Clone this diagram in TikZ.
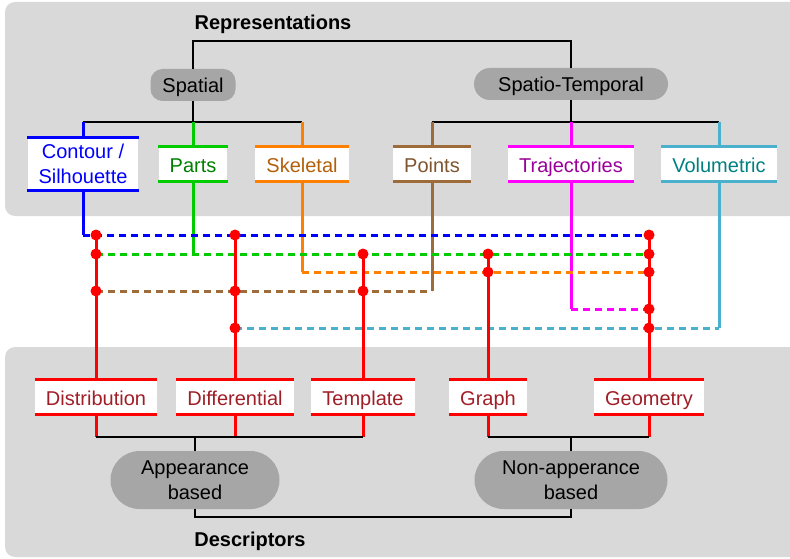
\documentclass[tikz,border=0pt]{standalone}
\usepackage{fontspec}
\setmainfont{Liberation Sans}
\usetikzlibrary{positioning, calc, shapes.misc}
\definecolor{panelgray}{RGB}{217,217,217}
\definecolor{catgray}{RGB}{166,166,166}
\definecolor{contourcol}{RGB}{0,0,255}
\definecolor{partscol}{RGB}{0,204,0}
\definecolor{partstxt}{RGB}{0,128,0}
\definecolor{skeletalcol}{RGB}{255,128,0}
\definecolor{skeletaltxt}{RGB}{180,96,10}
\definecolor{pointscol}{RGB}{158,107,58}
\definecolor{pointstxt}{RGB}{127,85,48}
\definecolor{trajcol}{RGB}{255,0,255}
\definecolor{trajtxt}{RGB}{153,0,153}
\definecolor{volcol}{RGB}{75,176,204}
\definecolor{voltxt}{RGB}{0,128,128}
\definecolor{desccol}{RGB}{255,0,0}
\definecolor{desctxt}{RGB}{160,30,40}
\tikzset{%
  panel/.style = {fill=panelgray, rounded corners=10pt},
  heading/.style = {font=\fontsize{20}{24.5}\selectfont\bfseries},
  cat/.style = {rounded rectangle, fill=catgray, align=center,
                inner xsep=0pt, inner ysep=6pt, minimum height=32pt,
                font=\fontsize{20}{24.5}\selectfont},
  oneline/.style = {text height=18pt, text depth=2pt},
  leafbox/.style = {fill=white, text=#1, align=center, minimum height=34pt,
                    inner xsep=11pt, inner ysep=7pt,
                    font=\fontsize{20}{24.5}\selectfont},
  leaf/.style = {leafbox=#1, oneline},
  tree/.style = {draw=black, line width=2pt},
  wire/.style = {draw=#1, line width=3pt},
  bus/.style = {wire=#1, dash pattern=on 7pt off 5pt},
  dot/.style = {circle, fill=desccol, inner sep=0pt, minimum size=11pt}
  }

\begin{document}
\begin{tikzpicture}[x=1pt, y=-1pt]
  \useasboundingbox (0,0) rectangle (790,559);
  \clip (0,0) rectangle (790,559);
  \path[panel] (5,2) rectangle (810,216);
  \path[panel] (5,347) rectangle (810,557);

  \begin{scope}
    \node (rep) [heading] at (273,24) {Representations};
    \node (spatial) [cat, oneline, rectangle, rounded corners=12pt,
      minimum width=85pt, inner ysep=4pt] at (193,85) {Spatial};
    \node (spatemp) [cat, oneline, minimum width=194pt, inner ysep=4pt]
      at (571,84) {Spatio-Temporal};

    \node (contour) [leafbox=contourcol] at (83,164) {Contour /\\Silhouette};
    \node (parts) [leaf=partstxt] at (193,164) {Parts};
    \node (skeletal) [leaf=skeletaltxt] at (302,164) {Skeletal};
    \node (points) [leaf=pointstxt] at (432,164) {Points};
    \node (traj) [leaf=trajtxt] at (571,164) {Trajectories};
    \node (volumetric) [leaf=voltxt] at (719,164) {Volumetric};

    \coordinate (repbar) at (0,41);
    \coordinate (spbar) at (0,122);
    \draw[tree] (spatial.north) -- (spatial.north |- repbar) -| (spatemp.north);
    \draw[tree] (spatial.south) -- (spatial.south |- spbar);
    \draw[tree] (contour.north |- spbar) -- (skeletal.north |- spbar);
    \draw[tree] (spatemp.south) -- (spatemp.south |- spbar);
    \draw[tree] (points.north |- spbar) -- (volumetric.north |- spbar);
  \end{scope}

  \begin{scope}
    \node (distribution) [leaf=desctxt] at (96,397) {Distribution};
    \node (differential) [leaf=desctxt] at (235,397) {Differential};
    \node (template) [leaf=desctxt] at (363,397) {Template};
    \node (graph) [leaf=desctxt] at (488,397) {Graph};
    \node (geometry) [leaf=desctxt] at (649,397) {Geometry};

    \node (appearance) [cat, minimum width=169pt, minimum height=58pt]
      at (195,480) {Appearance\\based};
    \node (nonapp) [cat, minimum width=193pt, minimum height=58pt]
      at (571,480) {Non-apperance\\based};
    \node (desc) [heading] at (250,541) {Descriptors};

    \coordinate (appbar) at (0,437);
    \coordinate (descbar) at (0,517);
    \foreach \d in {distribution, differential, template, graph, geometry}
      \draw[wire=desccol] (\d.south) -- (\d.south |- appbar);
    \draw[tree] (distribution.south |- appbar) -- (template.south |- appbar);
    \draw[tree] (appearance.north) -- (appearance.north |- appbar);
    \draw[tree] (graph.south |- appbar) -- (geometry.south |- appbar);
    \draw[tree] (nonapp.north) -- (nonapp.north |- appbar);
    \draw[tree] (appearance.south) -- (appearance.south |- descbar)
      -| (nonapp.south);
  \end{scope}

  % links between representations and descriptors
  \coordinate (lvcontour) at (0,235);
  \coordinate (lvparts) at (0,254);
  \coordinate (lvskeletal) at (0,272);
  \coordinate (lvpoints) at (0,291);
  \coordinate (lvtraj) at (0,309);
  \coordinate (lvvolumetric) at (0,328);

  \foreach \r/\c in {contour/contourcol, parts/partscol, skeletal/skeletalcol,
                     points/pointscol, traj/trajcol, volumetric/volcol}
    \draw[wire=\c] (\r.north |- spbar) -- (\r.north)
      (\r.south) -- (\r.south |- lv\r);

  \foreach \r/\c/\a/\b in {contour/contourcol/contour/geometry,
                           parts/partscol/distribution/geometry,
                           skeletal/skeletalcol/skeletal/geometry,
                           points/pointscol/distribution/points,
                           traj/trajcol/traj/geometry,
                           volumetric/volcol/differential/volumetric}
    \draw[bus=\c] (\a.south |- lv\r) -- (\b.north |- lv\r);

  \foreach \d/\r in {distribution/contour, differential/contour,
                     template/parts, graph/parts, geometry/contour}
    \draw[wire=desccol] (\d.north |- lv\r) -- (\d.north);

  \foreach \d/\r in {distribution/contour, distribution/parts,
                     distribution/points, differential/contour,
                     differential/points, differential/volumetric,
                     template/parts, template/points, graph/parts,
                     graph/skeletal, geometry/contour, geometry/parts,
                     geometry/skeletal, geometry/traj, geometry/volumetric}
    \node (\d-\r) [dot] at (\d.north |- lv\r) {};

  \foreach \n/\c in {contour/contourcol, parts/partscol, skeletal/skeletalcol,
                     points/pointscol, traj/trajcol, volumetric/volcol,
                     distribution/desccol, differential/desccol,
                     template/desccol, graph/desccol, geometry/desccol}
    \draw[wire=\c] (\n.north west) -- (\n.north east)
      (\n.south west) -- (\n.south east);
\end{tikzpicture}
\end{document}
